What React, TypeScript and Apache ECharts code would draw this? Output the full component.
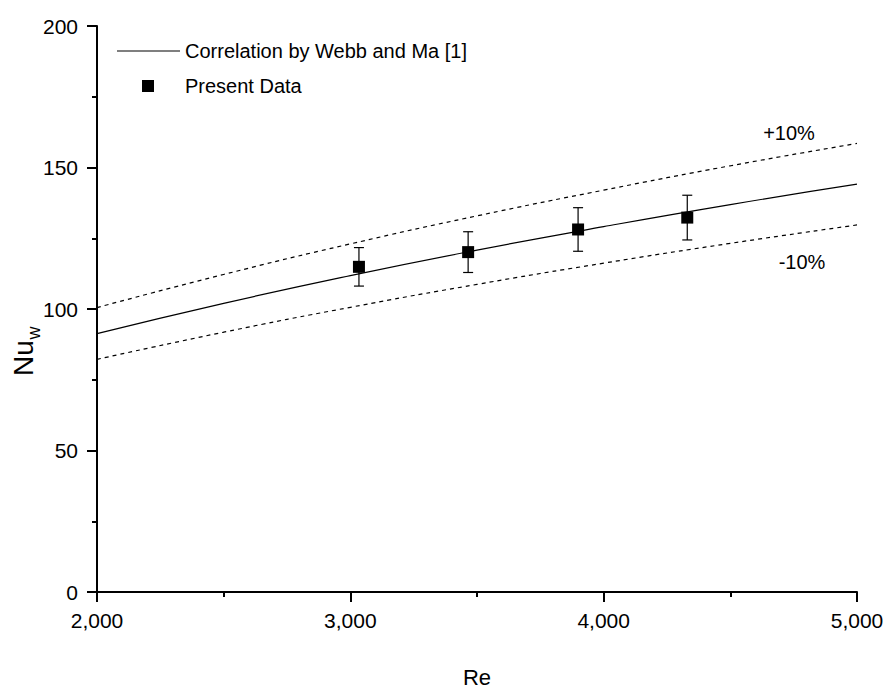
import React, { useEffect, useRef } from "react";
import * as echarts from "echarts";

// Correlation curve (Webb and Ma) and its ±10% band, sampled along Re
const corrRe = [2000, 2500, 3000, 3500, 4000, 4500, 5000];
const corrNu = [91.3, 102.0, 111.8, 120.8, 129.1, 136.9, 144.1];
const upperNu = [100.5, 112.2, 123.0, 132.9, 142.0, 150.6, 158.5];
const lowerNu = [82.2, 91.8, 100.6, 108.7, 116.2, 123.2, 129.7];

// Measured points with their error bars
const dataRe = [3034, 3465, 3899, 4330];
const dataNu = [114.9, 120.1, 128.1, 132.3];
const dataErr = [6.8, 7.2, 7.7, 7.9];

const xTicks = { min: 2000, max: 5000, interval: 1000 };
const yTicks = { min: 0, max: 200, interval: 50 };

const FONT = "Liberation Sans, Arial, sans-serif";

export default function App() {
  const ref = useRef<HTMLDivElement>(null);

  useEffect(() => {
    if (!ref.current) return;
    const chart = echarts.init(ref.current, null, { renderer: "svg" });

    const pairs = (ys: number[]) => corrRe.map((x, i) => [x, ys[i]]);
    const errData = dataRe.map((x, i) => [x, dataNu[i] - dataErr[i], dataNu[i] + dataErr[i]]);

    const axisCommon = {
      axisLine: { show: true, lineStyle: { color: "#000", width: 2 } },
      axisTick: { show: true, inside: false, length: 10, lineStyle: { color: "#000", width: 2 } },
      minorTick: { show: true, splitNumber: 2, length: 5, lineStyle: { color: "#000", width: 2 } },
      splitLine: { show: false },
      minorSplitLine: { show: false },
    };

    chart.setOption({
      animation: false,
      backgroundColor: "#fff",
      grid: { left: 97, right: 35, top: 26, bottom: 102, containLabel: false },
      xAxis: {
        type: "value",
        ...xTicks,
        ...axisCommon,
        axisLabel: {
          color: "#000",
          fontFamily: FONT,
          fontSize: 21,
          margin: 18,
          formatter: (v: number) => v.toLocaleString("en-US"),
        },
        name: "Re",
        nameLocation: "middle",
        nameGap: 74,
        nameTextStyle: { color: "#000", fontFamily: FONT, fontSize: 22 },
      },
      yAxis: {
        type: "value",
        ...yTicks,
        ...axisCommon,
        axisLabel: { color: "#000", fontFamily: FONT, fontSize: 21, margin: 19 },
      },
      series: [
        {
          type: "line",
          name: "Correlation by Webb and Ma [1]",
          data: pairs(corrNu),
          smooth: true,
          symbol: "none",
          lineStyle: { color: "#000", width: 1.2 },
          z: 2,
        },
        {
          type: "line",
          name: "+10%",
          data: pairs(upperNu),
          smooth: true,
          symbol: "none",
          lineStyle: { color: "#000", width: 1.2, type: [4, 4] },
          z: 2,
        },
        {
          type: "line",
          name: "-10%",
          data: pairs(lowerNu),
          smooth: true,
          symbol: "none",
          lineStyle: { color: "#000", width: 1.2, type: [4, 4] },
          z: 2,
        },
        {
          type: "custom",
          name: "error",
          data: errData,
          z: 3,
          renderItem: (_params: any, api: any) => {
            const lo = api.coord([api.value(0), api.value(1)]);
            const hi = api.coord([api.value(0), api.value(2)]);
            const cap = 5;
            const style = { stroke: "#000", lineWidth: 1.2 };
            return {
              type: "group",
              children: [
                { type: "line", shape: { x1: lo[0], y1: lo[1], x2: hi[0], y2: hi[1] }, style },
                { type: "line", shape: { x1: lo[0] - cap, y1: lo[1], x2: lo[0] + cap, y2: lo[1] }, style },
                { type: "line", shape: { x1: hi[0] - cap, y1: hi[1], x2: hi[0] + cap, y2: hi[1] }, style },
              ],
            };
          },
        },
        {
          type: "scatter",
          name: "Present Data",
          data: dataRe.map((x, i) => [x, dataNu[i]]),
          symbol: "rect",
          symbolSize: 12,
          itemStyle: { color: "#000", opacity: 1 },
          z: 4,
        },
      ],
      graphic: [
        // legend
        {
          type: "line",
          shape: { x1: 117, y1: 51, x2: 180, y2: 51 },
          style: { stroke: "#000", lineWidth: 1.2 },
        },
        {
          type: "text",
          x: 185,
          y: 51,
          style: {
            text: "Correlation by Webb and Ma [1]",
            fill: "#000",
            font: `20px ${FONT}`,
            verticalAlign: "middle",
          },
        },
        {
          type: "rect",
          shape: { x: 142, y: 80, width: 12, height: 12 },
          style: { fill: "#000" },
        },
        {
          type: "text",
          x: 185,
          y: 86,
          style: {
            text: "Present Data",
            fill: "#000",
            font: `20px ${FONT}`,
            verticalAlign: "middle",
          },
        },
        // band labels
        {
          type: "text",
          x: 789,
          y: 133,
          style: { text: "+10%", fill: "#000", font: `20px ${FONT}`, align: "center", verticalAlign: "middle" },
        },
        {
          type: "text",
          x: 802,
          y: 262,
          style: { text: "-10%", fill: "#000", font: `20px ${FONT}`, align: "center", verticalAlign: "middle" },
        },
        // y-axis title Nu with subscript w
        {
          type: "text",
          x: 23,
          y: 358,
          rotation: Math.PI / 2,
          style: { text: "Nu", fill: "#000", font: `28px ${FONT}`, align: "center", verticalAlign: "middle" },
        },
        {
          type: "text",
          x: 34,
          y: 333,
          rotation: Math.PI / 2,
          style: { text: "w", fill: "#000", font: `18px ${FONT}`, align: "center", verticalAlign: "middle" },
        },
      ],
    });

    return () => chart.dispose();
  }, []);

  return (
    <div
      ref={ref}
      style={{ position: "fixed", left: 0, top: 0, width: 892, height: 694, background: "#fff" }}
    />
  );
}
